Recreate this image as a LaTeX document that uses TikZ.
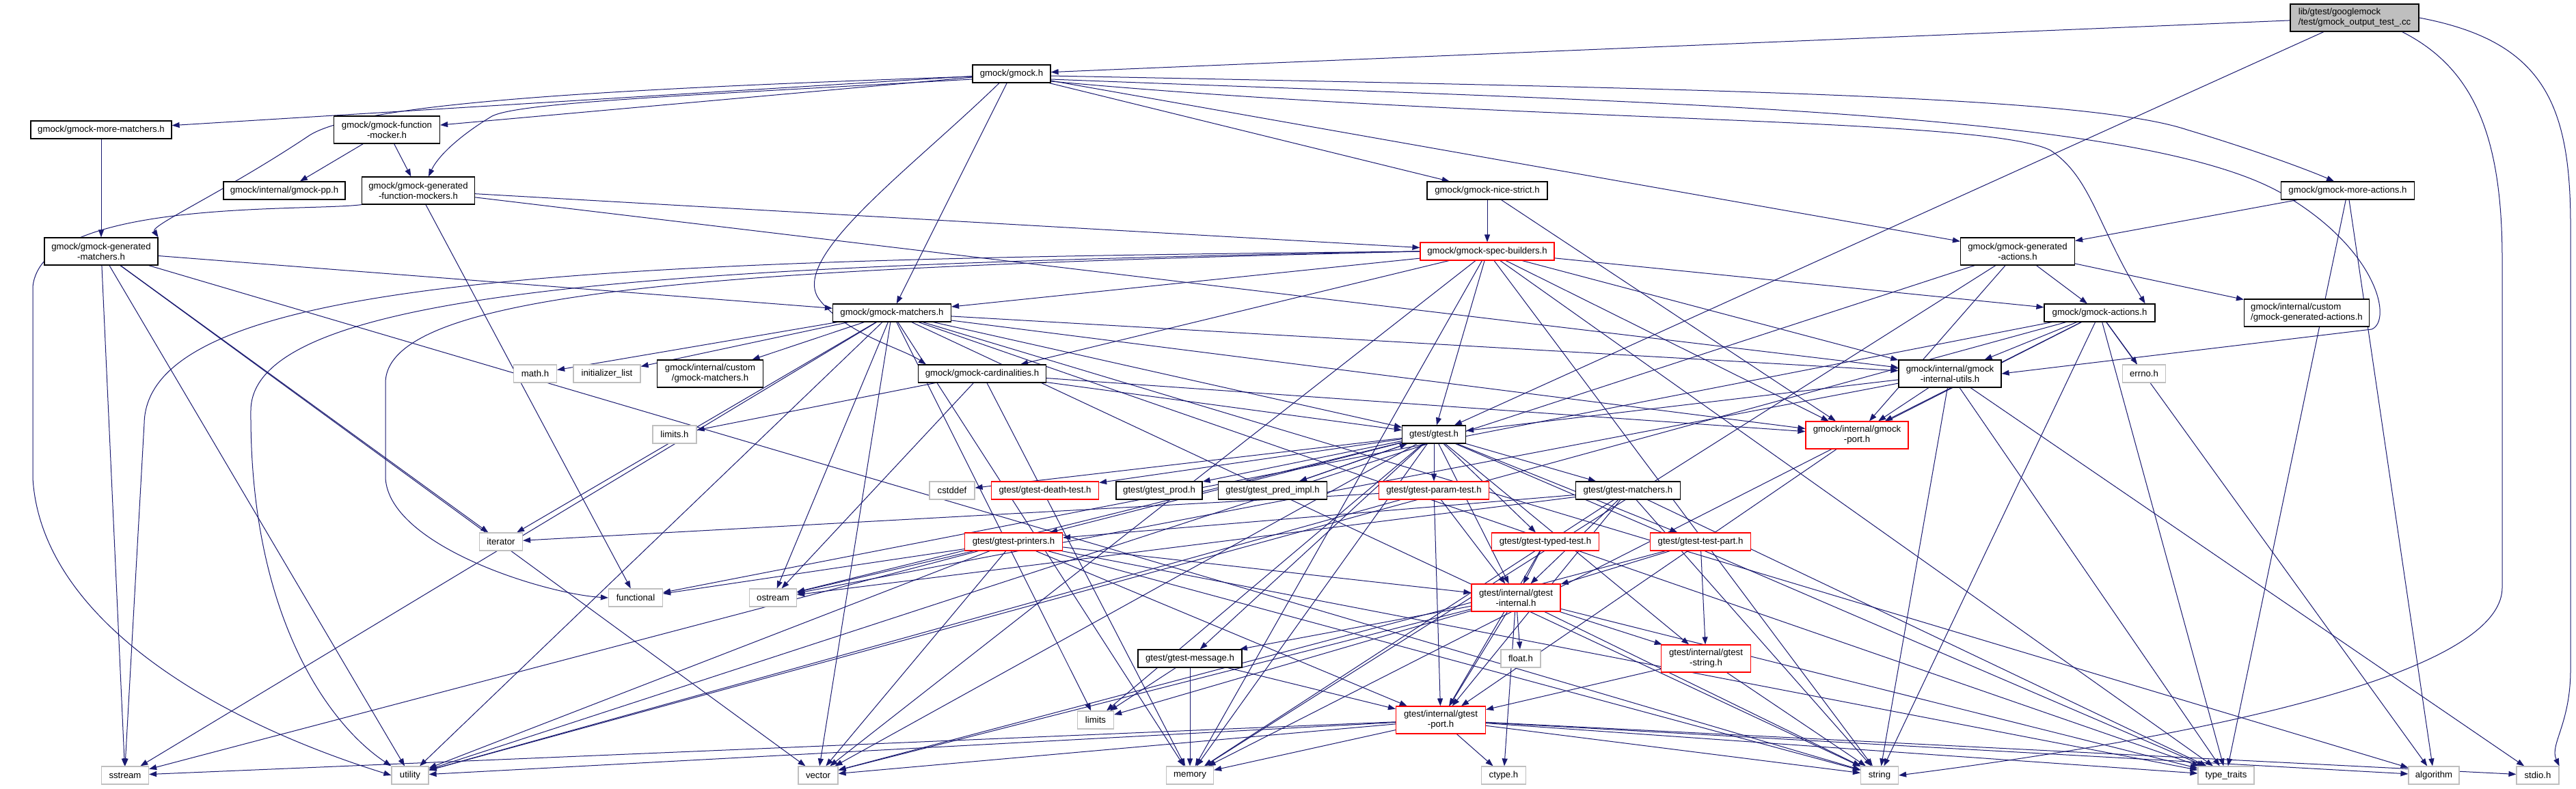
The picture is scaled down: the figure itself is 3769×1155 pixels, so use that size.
\documentclass[tikz,border=0pt]{standalone}
\usepackage{fontspec}
\setmainfont{Liberation Sans}
\usetikzlibrary{arrows.meta}
\definecolor{edgec}{HTML}{191970}
\definecolor{redc}{HTML}{FF0000}
\definecolor{grayc}{HTML}{BFBFBF}
\pgfdeclarelayer{bglayer}
\pgfdeclarelayer{edgelayer}
\pgfsetlayers{bglayer,edgelayer,main}
\begin{document}
\begin{tikzpicture}[x=1pt,y=-1pt,
  font=\fontsize{13.2}{15}\selectfont,
  nb/.style={draw=black, fill=white, line width=1.2pt, inner sep=0pt, minimum height=26pt, align=center},
  rb/.style={nb, draw=redc},
  sb/.style={nb, draw=grayc},
  two/.style={minimum height=40pt},
  rootb/.style={nb, fill=grayc, two, align=left},
  e/.style={draw=edgec, line width=1pt, -{Triangle[length=11pt,width=8pt]}}]
\begin{pgfonlayer}{bglayer}
\fill[white] (0,0) rectangle (3769,1155);
\end{pgfonlayer}
\useasboundingbox (0,0) rectangle (3769,1155);
% nodes
\node[rootb, minimum width=188] (root) at (3445,26) {lib/gtest/googlemock\\/test/gmock\_output\_test\_.cc};
\node[nb, minimum width=114] (gmock) at (1480,108) {gmock/gmock.h};
\node[nb, minimum width=206] (moreM) at (148,190) {gmock/gmock-more-matchers.h};
\node[nb, two, minimum width=155] (fmock) at (566,190) {gmock/gmock-function\\-mocker.h};
\node[nb, minimum width=178] (pp) at (416,279) {gmock/internal/gmock-pp.h};
\node[nb, two, minimum width=165] (genFM) at (612,279) {gmock/gmock-generated\\-function-mockers.h};
\node[nb, two, minimum width=166] (genM) at (148,368) {gmock/gmock-generated\\-matchers.h};
\node[nb, minimum width=176] (nice) at (2176,279) {gmock/gmock-nice-strict.h};
\node[rb, minimum width=196] (spec) at (2176,368) {gmock/gmock-spec-builders.h};
\node[nb, minimum width=195] (moreA) at (3435,279) {gmock/gmock-more-actions.h};
\node[nb, two, minimum width=167] (genA) at (2952,368) {gmock/gmock-generated\\-actions.h};
\node[nb, minimum width=173] (matchers) at (1305,458) {gmock/gmock-matchers.h};
\node[nb, two, minimum width=155] (custM) at (1039,547) {gmock/internal/custom\\/gmock-matchers.h};
\node[nb, minimum width=187] (card) at (1437,547) {gmock/gmock-cardinalities.h};
\node[sb, minimum width=63] (mathh) at (783,547) {math.h};
\node[sb, minimum width=98] (initl) at (888,547) {initializer\_list};
\node[sb, minimum width=64] (limitsh) at (987,636) {limits.h};
\node[nb, minimum width=162] (actions) at (3072,458) {gmock/gmock-actions.h};
\node[nb, two, minimum width=183, align=left] (custGA) at (3375,458) {gmock/internal/custom\\/gmock-generated-actions.h};
\node[nb, two, minimum width=150] (utils) at (2853,547) {gmock/internal/gmock\\-internal-utils.h};
\node[rb, two, minimum width=150] (gport) at (2717,637) {gmock/internal/gmock\\-port.h};
\node[nb, minimum width=93] (gtest) at (2098,636) {gtest/gtest.h};
\node[sb, minimum width=63] (errno) at (3137,547) {errno.h};
\node[sb, minimum width=66] (cstddef) at (1393,718) {cstddef};
\node[rb, minimum width=157] (death) at (1529,718) {gtest/gtest-death-test.h};
\node[nb, minimum width=126] (prod) at (1696,718) {gtest/gtest\_prod.h};
\node[nb, minimum width=159] (pred) at (1862,718) {gtest/gtest\_pred\_impl.h};
\node[rb, minimum width=161] (param) at (2098,718) {gtest/gtest-param-test.h};
\node[nb, minimum width=153] (gmatch) at (2382,718) {gtest/gtest-matchers.h};
\node[sb, minimum width=79] (functional) at (930,875) {functional};
\node[sb, minimum width=63] (iterator) at (733,793) {iterator};
\node[sb, minimum width=69] (ostream) at (1131,875) {ostream};
\node[rb, minimum width=143] (printers) at (1483,793) {gtest/gtest-printers.h};
\node[nb, minimum width=152] (message) at (1741,964) {gtest/gtest-message.h};
\node[sb, minimum width=53] (limits) at (1603,1054) {limits};
\node[sb, minimum width=58] (vector) at (1197,1135) {vector};
\node[sb, minimum width=69] (memory) at (1741,1135) {memory};
\node[sb, minimum width=69] (sstream) at (183,1135) {sstream};
\node[sb, minimum width=54] (utility) at (600,1135) {utility};
\node[rb, minimum width=157] (typed) at (2261,793) {gtest/gtest-typed-test.h};
\node[rb, minimum width=147] (testpart) at (2488,793) {gtest/gtest-test-part.h};
\node[rb, two, minimum width=130] (ginternal) at (2218,875) {gtest/internal/gtest\\-internal.h};
\node[sb, minimum width=58] (floath) at (2225,964) {float.h};
\node[rb, two, minimum width=131] (gstring) at (2496,964) {gtest/internal/gtest\\-string.h};
\node[rb, two, minimum width=131] (gtport) at (2108,1054) {gtest/internal/gtest\\-port.h};
\node[sb, minimum width=65] (ctype) at (2200,1135) {ctype.h};
\node[sb, minimum width=55] (string) at (2750,1135) {string};
\node[sb, minimum width=82] (typetraits) at (3257,1135) {type\_traits};
\node[sb, minimum width=74] (algorithm) at (3561,1135) {algorithm};
\node[sb, minimum width=62] (stdio) at (3713,1135) {stdio.h};
% edges
\begin{pgfonlayer}{edgelayer}
% curved routes
\draw[e] (root.east) .. controls (3720,60) and (3761,150) .. (3761,330) -- (3761,980) .. controls (3761,1060) and (3730,1090) .. (stdio.north east);
\draw[e] ([xshift=-25pt]root.south east) .. controls (3620,100) and (3661,200) .. (3661,380) -- (3661,860) .. controls (3661,1010) and (3050,1100) .. (string.east);
\draw[e] ([yshift=-4pt]gmock.west) .. controls (900,130) and (520,150) .. (450,200) .. controls (330,280) and (220,330) .. (genM.north east);
\draw[e] ([yshift=-8pt]gmock.west) .. controls (1000,140) and (760,150) .. (720,170) .. controls (670,200) and (640,230) .. ([xshift=15pt]genFM.north);
\draw[e] ([yshift=-3pt]gmock.east) .. controls (2500,130) and (3050,140) .. (3200,190) .. controls (3300,220) and (3380,250) .. ([xshift=-20pt]moreA.north);
\draw[e] ([yshift=-8pt]gmock.east) .. controls (2400,150) and (3150,160) .. (3350,290) .. controls (3480,370) and (3500,470) .. (3470,482) -- (utils.east);
\draw[e] ([yshift=-11pt]gmock.east) .. controls (2200,180) and (2900,170) .. (3000,220) .. controls (3060,260) and (3068,330) .. ([xshift=-15pt]actions.north east);
\draw[e] ([xshift=-18pt]gmock.south) .. controls (1330,250) and (1150,380) .. (1200,440) .. controls (1240,490) and (1320,510) .. ([xshift=12pt]card.north west);
\draw[e] (genFM.south west) .. controls (450,310) and (60,290) .. (48,420) -- (48,700) .. controls (60,900) and (300,1050) .. (utility.west);
\draw[e] (spec.west) .. controls (900,380) and (215,400) .. (211,620) -- (sstream.north);
\draw[e] (spec.west) .. controls (1000,388) and (370,420) .. (367,600) .. controls (365,900) and (480,1060) .. (utility.north west);
\draw[e] (spec.west) .. controls (1100,392) and (566,420) .. (564,560) -- (564,700) .. controls (570,800) and (800,870) .. (functional.west);
% straight routes
\foreach \a/\b in {
 root/gmock, root/gtest,
 gmock/fmock, gmock/genA, gmock/matchers, gmock/moreM, gmock/nice,
 moreM/genM, fmock/pp, fmock/genFM,
 genFM/spec, genFM/utils, genFM/functional,
 genM/matchers, genM/iterator, genM/sstream, genM/string, genM/utility, genM/vector,
 nice/spec, nice/gport,
 spec/actions, spec/card, spec/matchers, spec/utils, spec/gport, spec/gtest,
 spec/memory, spec/string, spec/typetraits, spec/vector,
 moreA/genA, moreA/algorithm, moreA/typetraits,
 genA/actions, genA/custGA, genA/gport, genA/memory, genA/utility,
 matchers/mathh, matchers/initl, matchers/custM, matchers/iterator, matchers/limits,
 matchers/memory, matchers/ostream, matchers/sstream, matchers/string, matchers/typetraits,
 matchers/utility, matchers/vector, matchers/utils, matchers/gport, matchers/gtest, matchers/algorithm,
 card/limitsh, card/memory, card/ostream, card/gport, card/gtest,
 actions/errno, actions/algorithm, actions/functional, actions/memory, actions/string,
 actions/typetraits, actions/utility, actions/utils, actions/gport,
 utils/stdio, utils/ostream, utils/string, utils/typetraits, utils/gport, utils/gtest,
 gport/gtport,
 gtest/cstddef, gtest/limits, gtest/memory, gtest/ostream, gtest/typetraits, gtest/vector,
 gtest/ginternal, gtest/gstring, gtest/death, gtest/gmatch, gtest/message, gtest/param,
 gtest/printers, gtest/prod, gtest/testpart, gtest/typed, gtest/pred,
 pred/gtest,
 param/iterator, param/utility, param/ginternal, param/gtport,
 gmatch/memory, gmatch/ostream, gmatch/string, gmatch/typetraits, gmatch/printers,
 gmatch/ginternal, gmatch/gtport,
 printers/functional, printers/ostream, printers/sstream, printers/string, printers/typetraits,
 printers/utility, printers/vector, printers/ginternal, printers/gtport,
 typed/ginternal, typed/gtport,
 testpart/vector, testpart/ginternal, testpart/gstring,
 message/limits, message/memory, message/gtport,
 ginternal/ctype, ginternal/floath, ginternal/limits, ginternal/string, ginternal/typetraits,
 ginternal/vector, ginternal/gtport, ginternal/message, ginternal/gstring,
 gstring/string, gstring/gtport,
 gtport/ctype, gtport/stdio, gtport/memory, gtport/typetraits, gtport/algorithm,
 gtport/sstream, gtport/string, gtport/utility, gtport/vector}
 \draw[e] (\a) -- (\b);
\end{pgfonlayer}
\end{tikzpicture}
\end{document}
